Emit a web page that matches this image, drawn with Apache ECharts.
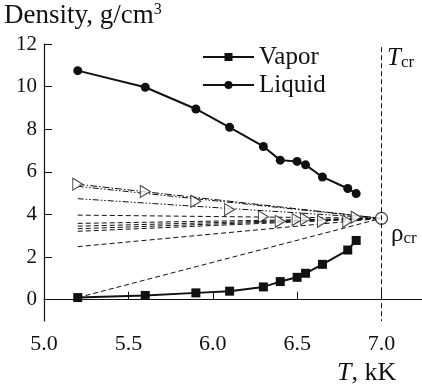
<!DOCTYPE html>
<html>
<head>
<meta charset="utf-8">
<script src="https://cdn.jsdelivr.net/npm/echarts@6/dist/echarts.min.js"></script>
<style>
  html, body { margin: 0; padding: 0; background: #fff; }
  #chart { width: 422px; height: 390px; }
</style>
</head>
<body>
<div id="chart"></div>
<script>
// temperatures, kK
var temps = [5.2, 5.6, 5.9, 6.1, 6.3, 6.4, 6.5, 6.55, 6.65, 6.8, 6.85];
// densities, g/cm3
var vapor = [0.1, 0.2, 0.32, 0.4, 0.6, 0.85, 1.05, 1.24, 1.66, 2.33, 2.78];
var liquid = [10.75, 9.97, 8.95, 8.09, 7.19, 6.55, 6.49, 6.33, 5.76, 5.22, 4.98];
var diameter = [5.42, 5.08, 4.62, 4.23, 3.89, 3.68, 3.76, 3.79, 3.68, 3.68, 3.87];

// critical point
var tCrit = 7.0;
var rhoCrit = 3.82;

// extrapolation lines: start at T = 5.2, end at critical point
var fitT0 = 5.2;
var fitStart = [5.42, 5.32, 4.74, 3.97, 3.58, 3.45, 3.33, 3.21, 2.49, 0.1];
var fitPattern = ['dashdot', 'dashdotdot', 'dashdotdot', 'dash', 'dash', 'dash', 'dash', 'dash', 'dash', 'dash'];

var xTicks = [5.0, 5.5, 6.0, 6.5, 7.0];
var yTicks = [0, 2, 4, 6, 8, 10, 12];

var serif = 'Liberation Serif';
var ink = '#111';

var dashes = {
  dash: [5, 3],
  dashdot: [7, 2, 1.5, 2],
  dashdotdot: [6, 2, 1.5, 2, 1.5, 2]
};

function pairs (xs, ys) {
  var res = [];
  for (var i = 0; i < xs.length; i++) res.push([xs[i], ys[i]]);
  return res;
}

var series = [];

// fit lines first, so they sit under the markers
fitStart.forEach(function (v, i) {
  series.push({
    type: 'line',
    name: 'fit' + i,
    data: [[fitT0, v], [tCrit, rhoCrit]],
    showSymbol: false,
    silent: true,
    z: 1,
    lineStyle: { color: ink, width: 1, type: dashes[fitPattern[i]] }
  });
});

series.push({
  type: 'line',
  name: 'Vapor',
  data: pairs(temps, vapor),
  symbol: 'rect',
  symbolSize: 9,
  z: 3,
  itemStyle: { color: ink },
  lineStyle: { color: ink, width: 2 },
  markLine: {
    silent: true,
    symbol: 'none',
    label: { show: false },
    lineStyle: { color: ink, width: 1, type: [5, 3] },
    data: [[{ coord: [tCrit, 11.85] }, { coord: [tCrit, -1] }]]
  }
});

series.push({
  type: 'line',
  name: 'Liquid',
  data: pairs(temps, liquid),
  symbol: 'circle',
  symbolSize: 9,
  z: 3,
  itemStyle: { color: ink },
  lineStyle: { color: ink, width: 2 }
});

series.push({
  type: 'scatter',
  name: 'diameter',
  data: pairs(temps, diameter),
  symbol: 'triangle',
  symbolRotate: -90,
  symbolSize: [12, 10],
  z: 4,
  itemStyle: { color: '#fff', borderColor: ink, borderWidth: 1 }
});

series.push({
  type: 'scatter',
  name: 'crit',
  data: [[tCrit, rhoCrit]],
  symbol: 'circle',
  symbolSize: 12,
  z: 4,
  itemStyle: { color: '#fff', borderColor: ink, borderWidth: 1.2 }
});

var option = {
  animation: false,
  backgroundColor: '#fff',
  grid: { left: 44, right: 0, top: 44, bottom: 69 },
  legend: {
    data: ['Vapor', 'Liquid'],
    orient: 'vertical',
    left: 197,
    top: 39,
    itemWidth: 51,
    itemHeight: 10,
    itemGap: 2,
    textStyle: { fontFamily: serif, fontSize: 25, color: ink, lineHeight: 26 }
  },
  xAxis: {
    type: 'value',
    min: 5,
    max: 7.24,
    axisLine: { lineStyle: { color: ink, width: 1.2 } },
    axisTick: { inside: true, length: 8, customValues: xTicks, lineStyle: { color: ink } },
    splitLine: { show: false },
    axisLabel: {
      customValues: xTicks,
      margin: 12,
      fontFamily: serif,
      fontSize: 22,
      color: ink,
      formatter: function (v) { return v.toFixed(1) }
    }
  },
  yAxis: {
    type: 'value',
    min: -1,
    max: 12,
    axisLine: { show: true, lineStyle: { color: ink, width: 1.2 } },
    axisTick: { show: true, inside: true, length: 8, customValues: yTicks, lineStyle: { color: ink } },
    splitLine: { show: false },
    axisLabel: {
      customValues: yTicks,
      margin: 7,
      fontFamily: serif,
      fontSize: 21,
      color: ink
    }
  },
  graphic: [
    {
      type: 'text', left: 4, top: 2,
      style: {
        text: '{a|Density, g/cm}{s|3}',
        rich: {
          a: { fontFamily: serif, fontSize: 27, fill: ink },
          s: { fontFamily: serif, fontSize: 16, fill: ink, verticalAlign: 'top', padding: [0, 0, 12, 0] }
        }
      }
    },
    {
      type: 'text', left: 337, top: 360,
      style: {
        text: '{i|T}{a|, kK}',
        rich: {
          i: { fontFamily: serif, fontSize: 26, fontStyle: 'italic', fill: ink },
          a: { fontFamily: serif, fontSize: 26, fill: ink }
        }
      }
    },
    {
      type: 'text', left: 387, top: 46,
      style: {
        text: '{i|T}{s|cr}',
        rich: {
          i: { fontFamily: serif, fontSize: 25, fontStyle: 'italic', fill: ink },
          s: { fontFamily: serif, fontSize: 17, fill: ink, verticalAlign: 'bottom', padding: [8, 0, 0, 0] }
        }
      }
    },
    {
      type: 'text', left: 391, top: 222,
      style: {
        text: '{a|ρ}{s|cr}',
        rich: {
          a: { fontFamily: serif, fontSize: 25, fill: ink },
          s: { fontFamily: serif, fontSize: 17, fill: ink, verticalAlign: 'bottom', padding: [8, 0, 0, 0] }
        }
      }
    }
  ],
  series: series
};

var chart = echarts.init(document.getElementById('chart'));
chart.setOption(option);
</script>
</body>
</html>
